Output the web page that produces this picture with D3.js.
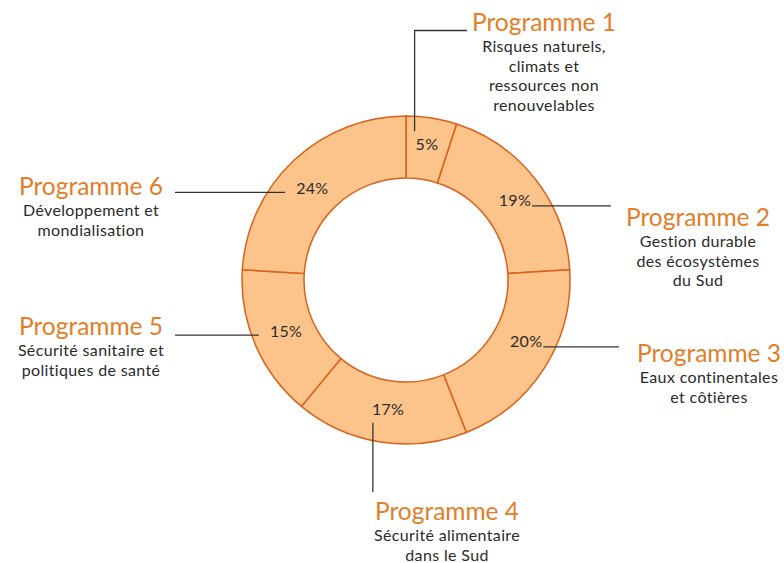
<!DOCTYPE html>
<html>
<head>
<meta charset="utf-8">
<script src="https://cdn.jsdelivr.net/npm/d3@7"></script>
<style>
  html, body { margin: 0; padding: 0; background: #fff; }
  svg { display: block; }
  .title { font-family: Lato, "Open Sans", sans-serif; font-size: 24.5px; fill: #e47d28; }
  .sub { font-family: Lato, "Open Sans", sans-serif; font-size: 16px; letter-spacing: 0.35px; fill: #2b2b2b; }
  .pct { font-family: Lato, "Open Sans", sans-serif; font-size: 16px; letter-spacing: 0.3px; fill: #2b2b2b; }
</style>
</head>
<body>
<svg class="chart" width="784" height="563"></svg>
<script>
// data
var programmes = ["Programme 1", "Programme 2", "Programme 3", "Programme 4", "Programme 5", "Programme 6"];
var shares = [5, 19, 20, 17, 15, 24];
var descriptions = [
  ["Risques naturels,", "climats et", "ressources non", "renouvelables"],
  ["Gestion durable", "des écosystèmes", "du Sud"],
  ["Eaux continentales", "et côtières"],
  ["Sécurité alimentaire", "dans le Sud"],
  ["Sécurité sanitaire et", "politiques de santé"],
  ["Développement et", "mondialisation"]
];

// where each callout sits (title centre / baseline), how its leader runs,
// and a small nudge of the % label off the slice centroid
var callouts = [
  { x: 544, y: 31, kind: "top", lineTo: 467, nudge: [0, -3] },
  { x: 698, y: 226, kind: "right", lineTo: 611, nudge: [3, 3] },
  { x: 709, y: 362, kind: "right", lineTo: 619, nudge: [7, -10] },
  { x: 447, y: 520, kind: "bottom", lineTo: 492, nudge: [3, -3] },
  { x: 91, y: 335, kind: "left", lineTo: 175, nudge: [3, -2] },
  { x: 91, y: 195, kind: "left", lineTo: 175, nudge: [-2, 6] }
];

var vis = d3.select(".chart"),
    CX = 406,
    CY = 280,
    R_OUT = 164,
    R_IN = 102;

var pie = d3.pie().sort(null).value(function(d) { return d; });
var arcs = pie(shares);

var arcGen = d3.arc().innerRadius(R_IN).outerRadius(R_OUT);
var labelArc = d3.arc().innerRadius(134).outerRadius(134);

function labelPos(d, i) {
  var c = labelArc.centroid(d), n = callouts[i].nudge;
  return [c[0] + n[0], c[1] + n[1]];
}

var g = vis.append("g").attr("transform", "translate(" + CX + "," + CY + ")");

g.selectAll("path.slice")
  .data(arcs)
  .enter().append("path")
  .attr("class", "slice")
  .attr("d", arcGen)
  .attr("fill", "#fcc48b")
  .attr("stroke", "#d8621c")
  .attr("stroke-width", 1.5)
  .attr("stroke-linejoin", "round");

// percentage labels
var pcts = g.selectAll("text.pct")
  .data(arcs)
  .enter().append("text")
  .attr("class", "pct")
  .attr("text-anchor", "middle")
  .attr("x", function(d, i) { return labelPos(d, i)[0]; })
  .attr("y", function(d, i) { return labelPos(d, i)[1] + 5.5; })
  .text(function(d) { return d.data + "%"; });

// leader lines
var lines = vis.append("g")
  .attr("stroke", "#333")
  .attr("stroke-width", 1.3)
  .attr("fill", "none");

pcts.each(function(d, i) {
  var b = this.getBBox(),
      c = callouts[i],
      x0 = b.x + CX,
      y0 = b.y + CY,
      base = labelPos(d, i)[1] + CY + 5,
      pts;
  if (c.kind === "top") {
    var lx = x0 - 1;
    pts = [[lx, y0 - 3], [lx, c.y - 0.5], [c.lineTo, c.y - 0.5]];
  } else if (c.kind === "bottom") {
    var bx = x0 + 1;
    pts = [[bx, y0 + b.height + 5], [bx, c.lineTo]];
  } else if (c.kind === "right") {
    pts = [[x0 + b.width + 1, base], [c.lineTo, base]];
  } else {
    pts = [[x0 - 11, base - 1], [c.lineTo, base - 1]];
  }
  lines.append("path").attr("d", d3.line()(pts));
});

// callout texts
var co = vis.selectAll("g.callout")
  .data(callouts)
  .enter().append("g")
  .attr("class", "callout");

co.append("text")
  .attr("class", "title")
  .attr("text-anchor", "middle")
  .attr("x", function(d) { return d.x; })
  .attr("y", function(d) { return d.y; })
  .text(function(d, i) { return programmes[i]; });

co.each(function(d, i) {
  var t = d3.select(this).append("text")
    .attr("class", "sub")
    .attr("text-anchor", "middle");
  descriptions[i].forEach(function(line, k) {
    t.append("tspan")
      .attr("x", d.x)
      .attr("y", d.y + 21 + k * 19.6)
      .text(line);
  });
});
</script>
</body>
</html>
